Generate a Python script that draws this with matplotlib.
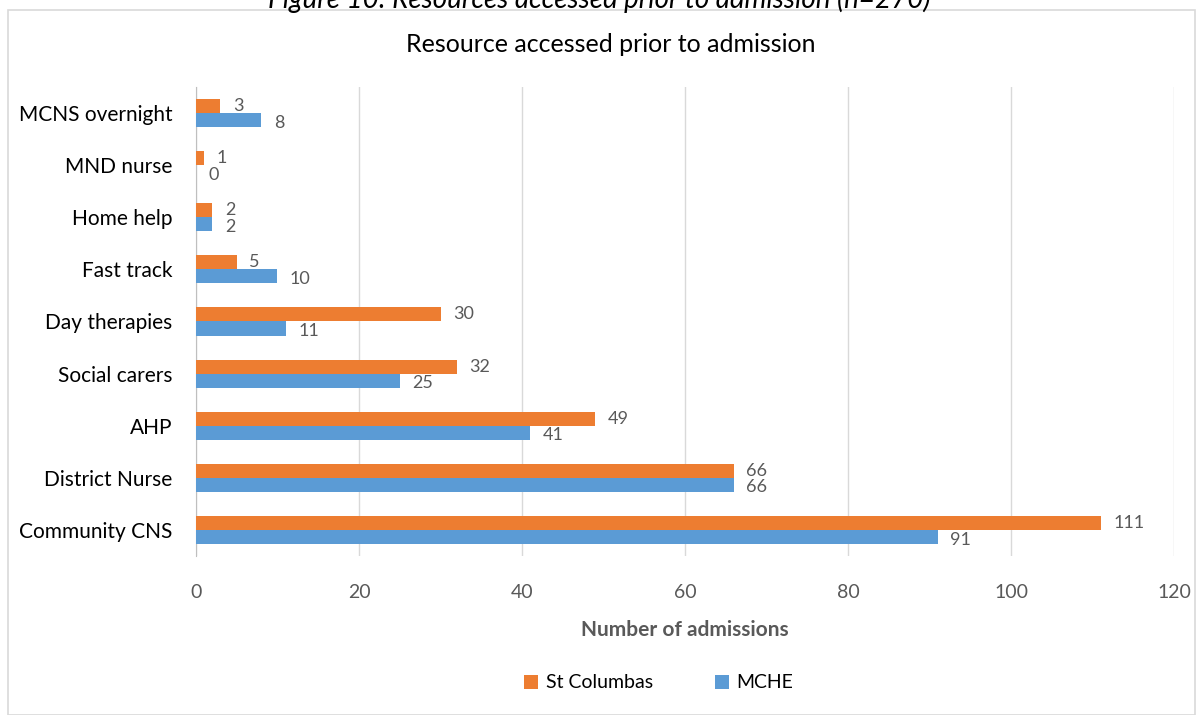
import matplotlib.pyplot as plt
import numpy as np
from matplotlib.patches import Rectangle

categories = ["Community CNS", "District Nurse", "AHP", "Social carers", "Day therapies",
              "Fast track", "Home help", "MND nurse", "MCNS overnight"]
st_columbas = [111, 66, 49, 32, 30, 5, 2, 1, 3]
mche = [91, 66, 41, 25, 11, 10, 2, 0, 8]

plt.rcParams['font.family'] = ['Lato', 'DejaVu Sans']

orange = '#ED7D31'
blue = '#5B9BD5'
grey = '#595959'

fig = plt.figure(figsize=(11.98, 7.15), dpi=100)
ax = fig.add_axes([0.1636, 0.2224, 0.8164, 0.6559])

# chart frame
fig.patches.append(Rectangle((8 / 1198, 0), 1187 / 1198, 1 - 10 / 715, transform=fig.transFigure,
                             fill=False, edgecolor='#D9D9D9', linewidth=1.2))

# caption sitting above the frame, cut at the top edge
fig.text(0.5, 1 + 1 / 715, "Figure 10: Resources accessed prior to admission (n=270)",
         ha='center', va='center', fontsize=20, style='italic', color='black')

y = np.arange(len(categories))
h = 0.27
ax.barh(y + h / 2, st_columbas, height=h, color=orange, label='St Columbas', zorder=3)
ax.barh(y - h / 2, mche, height=h, color=blue, label='MCHE', zorder=3)

for i in range(len(categories)):
    ax.annotate(str(st_columbas[i]), (st_columbas[i], y[i] + h / 2), xytext=(9, 0),
                textcoords='offset points', va='center', ha='left', fontsize=13, color=grey)
    ax.annotate(str(mche[i]), (mche[i], y[i] - h / 2 - 0.05), xytext=(9, 0),
                textcoords='offset points', va='center', ha='left', fontsize=13, color=grey)

ax.set_xlim(0, 120)
ax.set_ylim(-0.5, len(categories) - 0.5)
ax.set_xticks(np.arange(0, 121, 20))
ax.set_yticks(y)
ax.set_yticklabels(categories, fontsize=15, color='black')
ax.tick_params(axis='x', labelsize=14, labelcolor=grey, length=0, pad=20)
ax.tick_params(axis='y', length=0, pad=17)
ax.grid(axis='x', color='#D9D9D9', linewidth=1, zorder=0)
for side in ['top', 'right', 'bottom']:
    ax.spines[side].set_visible(False)
ax.spines['left'].set_color('#BFBFBF')

ax.set_xlabel("Number of admissions", fontsize=15, fontweight='bold', color=grey, labelpad=14)
fig.text(0.51, 1 - 45 / 715, "Resource accessed prior to admission", ha='center', va='center',
         fontsize=18, color='black')

handles, labels = ax.get_legend_handles_labels()
fig.legend(handles, labels, loc='center', bbox_to_anchor=(0.55, 1 - 683 / 715), ncol=2,
           frameon=False, fontsize=14, handlelength=0.7, handleheight=0.7, columnspacing=3.2,
           handletextpad=0.4)

fig.savefig('out.png', dpi=100)
